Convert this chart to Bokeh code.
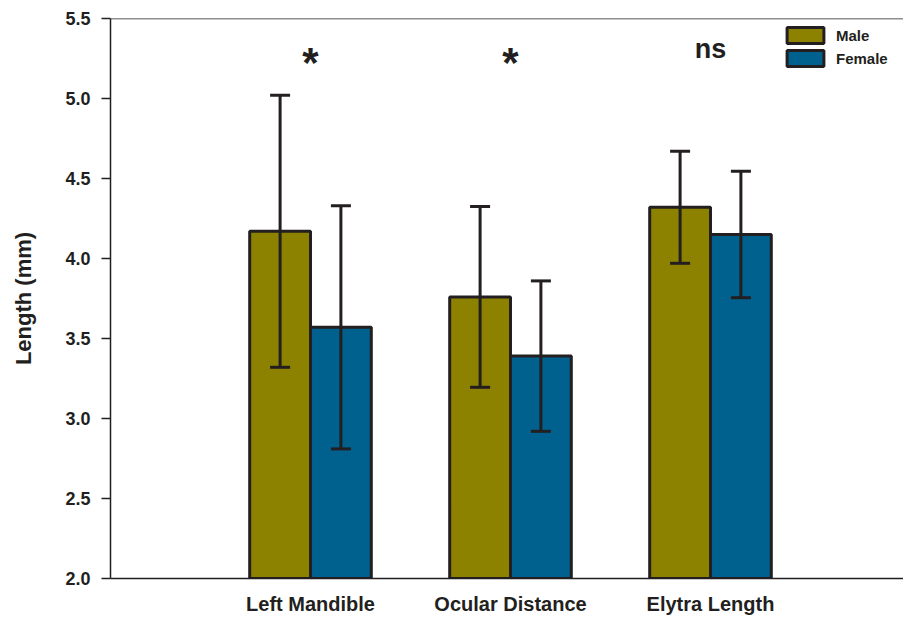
from bokeh.plotting import figure
from bokeh.models import (ColumnDataSource, Whisker, TeeHead, Range1d, FixedTicker,
                          Span, Legend, LegendItem, PrintfTickFormatter)
from bokeh.core.properties import value
from bokeh.embed import file_html
from bokeh.resources import INLINE

categories = ["Left Mandible", "Ocular Distance", "Elytra Length"]
male_mean = [4.17, 3.76, 4.32]
male_sd = [0.85, 0.565, 0.35]
female_mean = [3.57, 3.39, 4.15]
female_sd = [0.76, 0.47, 0.395]
sig_labels = ["*", "*", "ns"]
y_ticks = [2.0, 2.5, 3.0, 3.5, 4.0, 4.5, 5.0, 5.5]

MALE_COLOR = "#8C8200"
FEMALE_COLOR = "#00618E"
INK = "#231f20"
FONT = "Liberation Sans"

pos = [i + 1 for i in range(len(categories))]
off = 0.152
bw = 0.304

male_src = ColumnDataSource(dict(
    x=[p - off for p in pos], top=male_mean,
    upper=[m + s for m, s in zip(male_mean, male_sd)],
    lower=[m - s for m, s in zip(male_mean, male_sd)]))
female_src = ColumnDataSource(dict(
    x=[p + off for p in pos], top=female_mean,
    upper=[m + s for m, s in zip(female_mean, female_sd)],
    lower=[m - s for m, s in zip(female_mean, female_sd)]))

p = figure(width=903, height=617, output_backend="svg", toolbar_location=None,
           x_range=Range1d(0, 3.965), y_range=Range1d(2.0, 5.5),
           min_border_left=110, min_border_right=0, min_border_top=18,
           min_border_bottom=39)
p.outline_line_color = None
p.xgrid.visible = False
p.ygrid.visible = False
p.background_fill_color = "white"

r_m = p.vbar(x="x", top="top", bottom=0, width=bw, source=male_src,
             fill_color=MALE_COLOR, line_color=INK, line_width=3)
r_f = p.vbar(x="x", top="top", bottom=0, width=bw, source=female_src,
             fill_color=FEMALE_COLOR, line_color=INK, line_width=3)

for src in (male_src, female_src):
    w = Whisker(source=src, base="x", upper="upper", lower="lower",
                line_color=INK, line_width=3, level="overlay",
                upper_head=TeeHead(size=20, line_color=INK, line_width=3),
                lower_head=TeeHead(size=20, line_color=INK, line_width=3))
    p.add_layout(w)

# significance labels
star_x = [pp for pp, s in zip(pos, sig_labels) if s == "*"]
star_t = [s for s in sig_labels if s == "*"]
ns_x = [pp for pp, s in zip(pos, sig_labels) if s != "*"]
ns_t = [s for s in sig_labels if s != "*"]
p.text(x=star_x, y=[5.225] * len(star_x), text=star_t, text_align="center",
       text_baseline="alphabetic", text_font=value(FONT), text_font_style="bold",
       text_font_size="42px", text_color=INK)
p.text(x=ns_x, y=[5.308] * len(ns_x), text=ns_t, text_align="center",
       text_baseline="alphabetic", text_font=value(FONT), text_font_style="bold",
       text_font_size="27px", text_color=INK)

# top line
p.add_layout(Span(location=5.5, dimension="width", line_color=INK, line_width=1.5))

# axes
xa = p.xaxis[0]
xa.ticker = FixedTicker(ticks=pos)
xa.major_label_overrides = {pp: c for pp, c in zip(pos, categories)}
xa.major_tick_out = 0
xa.major_tick_in = 0
xa.minor_tick_out = 0
xa.minor_tick_in = 0
xa.axis_line_color = INK
xa.axis_line_width = 1.5
xa.major_label_text_font = FONT
xa.major_label_text_font_style = "bold"
xa.major_label_text_font_size = "20px"
xa.major_label_text_color = INK
xa.major_label_standoff = 14

ya = p.yaxis[0]
ya.ticker = FixedTicker(ticks=y_ticks)
ya.formatter = PrintfTickFormatter(format="%.1f")
ya.major_tick_out = 9
ya.major_tick_in = 0
ya.minor_tick_out = 0
ya.minor_tick_in = 0
ya.major_tick_line_width = 1.5
ya.major_tick_line_color = INK
ya.axis_line_color = INK
ya.axis_line_width = 1.5
ya.major_label_text_font = FONT
ya.major_label_text_font_style = "bold"
ya.major_label_text_font_size = "18px"
ya.major_label_text_color = INK
ya.major_label_standoff = 11
ya.axis_label = "Length (mm)"
ya.axis_label_text_font = FONT
ya.axis_label_text_font_style = "bold"
ya.axis_label_text_font_size = "22px"
ya.axis_label_text_color = INK
ya.axis_label_standoff = 26

legend = Legend(items=[LegendItem(label="Male", renderers=[r_m]),
                       LegendItem(label="Female", renderers=[r_f])],
                location=(672, 510), orientation="vertical",
                glyph_width=46, glyph_height=20, label_height=20,
                spacing=3, padding=0, margin=0, label_standoff=8,
                border_line_alpha=0, background_fill_alpha=0,
                label_text_font=FONT, label_text_font_style="bold",
                label_text_font_size="15px", label_text_color=INK)
p.add_layout(legend)

open("out.html", "w").write(file_html(p, INLINE))
